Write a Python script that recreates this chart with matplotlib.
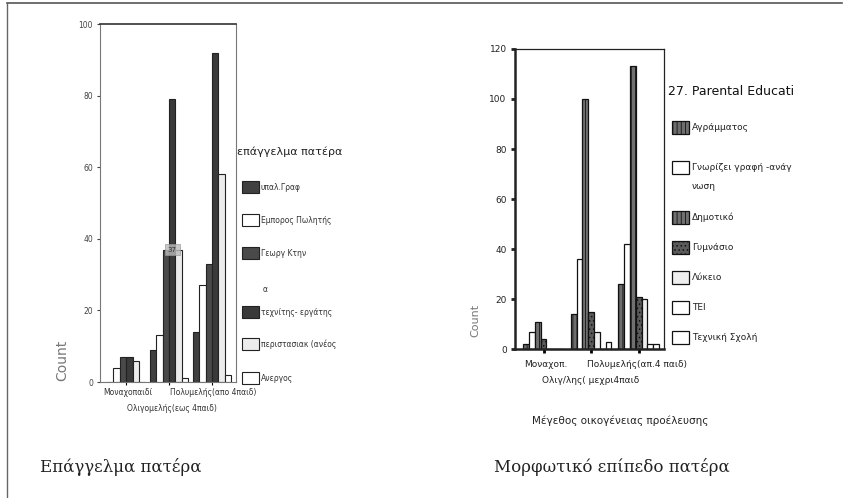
import numpy as np
import matplotlib
matplotlib.use('Agg')
import matplotlib.pyplot as plt
from matplotlib.patches import Rectangle

# --- dedomena (levels from the scan) ---
fam_left = ['Μοναχοπαιδί', 'Ολιγομελής(εως 4παιδ)', 'Πολυμελής(απο 4παιδ)']
occ_labels = ['υπαλ.Γραφ', 'Εμπορος Πωλητής', 'Γεωργ Κτην\nα', 'τεχνίτης- εργάτης',
              'περιστασιακ (ανέος', 'Ανεργος']
occ_counts = [
    [0, 9, 14],    # υπαλ.Γραφ
    [4, 13, 27],   # Εμπορος
    [7, 37, 33],   # Γεωργ
    [7, 79, 92],   # τεχνίτης
    [6, 37, 58],   # περιστασιακ
    [0, 1, 2],     # Ανεργος
]

fam_right = ['Μοναχοπ.', 'Ολιγ/λης( μεχρι4παιδ', 'Πολυμελής(απ.4 παιδ)']
edu_labels = ['Αγράμματος', 'Γνωρίζει γραφή -ανάγ\nνωση', 'Δημοτικό', 'Γυμνάσιο',
              'Λύκειο', 'TEI', 'Τεχνική Σχολή']
edu_counts = [
    [2, 14, 26],    # Αγράμματος
    [7, 36, 42],    # Γνωρίζει
    [11, 100, 113], # Δημοτικό
    [4, 15, 21],    # Γυμνάσιο
    [0, 7, 20],     # Λύκειο
    [0, 0, 2],      # ΤΕΙ
    [0, 3, 2],      # Τεχνική
]

occ_colors = ['#404040', 'white', '#4a4a4a', '#3a3a3a', '#ececec', 'white']
edu_colors = ['#6e6e6e', 'white', '#707070', '#5a5a5a', '#eeeeee', 'white', 'white']
edu_hatch = ['||||', None, '||||', '....', None, None, None]

narrow = ['Liberation Sans Narrow', 'DejaVu Sans']
plt.rcParams['font.family'] = narrow
plt.rcParams['hatch.linewidth'] = 0.6

W, H = 857, 498
fig = plt.figure(figsize=(W / 100, H / 100), dpi=100)

def box(l, t, r, b):
    return [l / W, 1 - b / H, (r - l) / W, (b - t) / H]

# overlay in pixel coords for frame, legends, captions
ov = fig.add_axes([0, 0, 1, 1])
ov.set_xlim(0, W)
ov.set_ylim(H, 0)
ov.axis('off')
ov.plot([7, 842], [3, 3], color='#555555', lw=1.2)
ov.plot([7.5, 7.5], [3, H], color='#666666', lw=1.0)

# ---------------- left chart ----------------
ax1 = fig.add_axes(box(100, 24, 236, 382))
x = np.arange(3)
bw = 0.148
n = len(occ_counts)
for i in range(n):
    ax1.bar(x + (i - (n - 1) / 2) * bw, occ_counts[i], bw, color=occ_colors[i],
            edgecolor='#222222', linewidth=0.8)
ax1.text(1 + 0.5 * bw, 37, '37', ha='center', va='center', fontsize=5, color='#333333',
         bbox=dict(boxstyle='square,pad=0.4', fc='#bbbbbb', ec='#999999', lw=0.6, alpha=0.8))
ax1.set_xlim(-0.61, 2.56)
ax1.set_ylim(0, 100)
ax1.set_yticks([0, 20, 40, 60, 80, 100])
ax1.tick_params(axis='y', labelsize=5.5, length=2, colors='#444444', pad=3)
ax1.set_xticks(x)
ax1.set_xticklabels(['', '', ''])
ax1.tick_params(axis='x', length=2)
for s in ax1.spines.values():
    s.set_color('#777777')
    s.set_linewidth(0.8)
ax1.spines['top'].set_color('#333333')
ax1.spines['top'].set_linewidth(1.2)
ov.text(62, 360, 'Count', rotation=90, ha='center', va='center', fontsize=10,
        color='#777777', family=['DejaVu Sans'])
ov.text(128, 392, fam_left[0], ha='center', va='center', fontsize=5.5, color='#333333')
ov.text(213, 392, fam_left[2], ha='center', va='center', fontsize=5.5, color='#333333')
ov.text(172, 408, fam_left[1], ha='center', va='center', fontsize=5.5, color='#333333')

ov.text(237, 152, 'επάγγελμα πατέρα', ha='left', va='center', fontsize=8, color='#222222')
ly = [187, 220, 253, 312, 344, 378]
for i, yy in enumerate(ly):
    ov.add_patch(Rectangle((242, yy - 6), 17, 12, facecolor=occ_colors[i], edgecolor='#222222',
                           lw=0.8))
    lab = occ_labels[i].split('\n')
    ov.text(261, yy, lab[0], ha='left', va='center', fontsize=5.5, color='#333333')
    if len(lab) > 1:
        ov.text(263, yy + 36, lab[1], ha='left', va='center', fontsize=5.5, color='#333333')

# ---------------- right chart ----------------
ax2 = fig.add_axes(box(515, 49, 664, 349))
bw2 = 0.122
m = len(edu_counts)
for i in range(m):
    ax2.bar(x + (i - (m - 1) / 2) * bw2, edu_counts[i], bw2, color=edu_colors[i],
            edgecolor='#111111', linewidth=0.9, hatch=edu_hatch[i])
ax2.set_xlim(-0.6, 2.53)
ax2.set_ylim(0, 120)
ax2.set_yticks([0, 20, 40, 60, 80, 100, 120])
ax2.tick_params(axis='y', labelsize=6.5, length=3, width=2, colors='#222222', pad=3)
ax2.set_xticks(x)
ax2.set_xticklabels(['', '', ''])
ax2.tick_params(axis='x', length=3, width=2)
for s in ax2.spines.values():
    s.set_color('#222222')
    s.set_linewidth(0.9)
ax2.spines['left'].set_linewidth(1.8)
ax2.spines['bottom'].set_linewidth(1.8)
ov.text(475, 320, 'Count', rotation=90, ha='center', va='center', fontsize=8,
        color='#777777', family=['DejaVu Sans'])
ov.text(546, 364, fam_right[0], ha='center', va='center', fontsize=6.5, color='#222222')
ov.text(637, 364, fam_right[2], ha='center', va='center', fontsize=6.5, color='#222222')
ov.text(591, 380, fam_right[1], ha='center', va='center', fontsize=6.5, color='#222222')
ov.text(620, 421, 'Μέγεθος οικογένειας προέλευσης', ha='center', va='center',
        fontsize=7.5, color='#222222')

ov.text(668, 91, '27. Parental Educati', ha='left', va='center', fontsize=9, color='#111111')
ry = [127, 167, 217, 247, 277, 307, 337]
for i, yy in enumerate(ry):
    ov.add_patch(Rectangle((672, yy - 6.5), 17, 13, facecolor=edu_colors[i], edgecolor='#111111',
                           lw=0.9, hatch=edu_hatch[i]))
    lab = edu_labels[i].split('\n')
    ov.text(692, yy, lab[0], ha='left', va='center', fontsize=6.5, color='#222222')
    if len(lab) > 1:
        ov.text(692, yy + 19, lab[1], ha='left', va='center', fontsize=6.5, color='#222222')

# captions
ov.text(40, 467, 'Επάγγελμα πατέρα', ha='left', va='center', fontsize=12,
        family=['DejaVu Serif'], color='#222222')
ov.text(494, 467, 'Μορφωτικό επίπεδο πατέρα', ha='left', va='center', fontsize=12,
        family=['DejaVu Serif'], color='#222222')

fig.savefig('out.png', dpi=100)
